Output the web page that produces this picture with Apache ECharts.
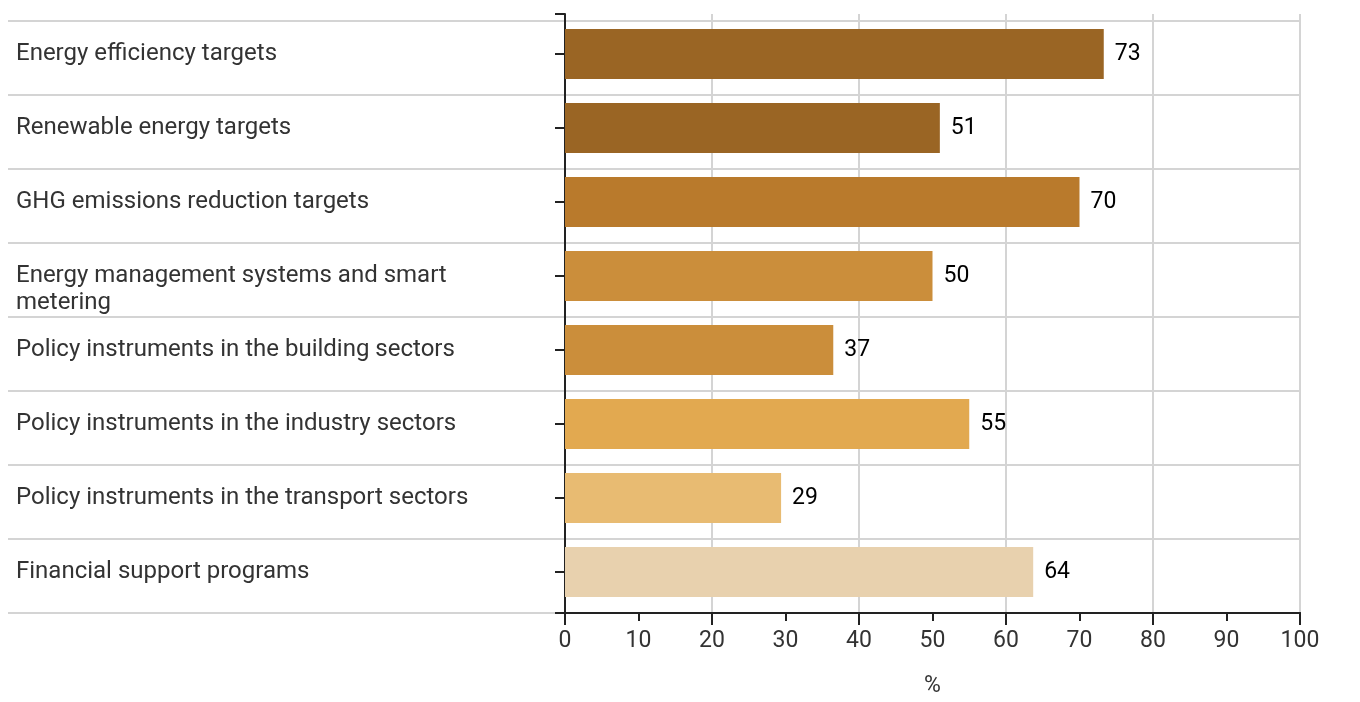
<!DOCTYPE html>
<html>
<head>
<meta charset="utf-8">
<script src="https://cdn.jsdelivr.net/npm/echarts@6/dist/echarts.min.js"></script>
<style>html,body{margin:0;padding:0;background:#fff}#c{width:1360px;height:702px}</style>
</head>
<body>
<div id="c"></div>
<script>
const categories = [
  "Energy efficiency targets",
  "Renewable energy targets",
  "GHG emissions reduction targets",
  "Energy management systems and smart metering",
  "Policy instruments in the building sectors",
  "Policy instruments in the industry sectors",
  "Policy instruments in the transport sectors",
  "Financial support programs"
];
const values = [73.3, 51, 70, 50, 36.5, 55, 29.4, 63.7];
const barColors = ["#9a6524", "#9a6524", "#b97a2c", "#cb8e3b", "#cb8e3b", "#e2a950", "#e8bb72", "#e8d1ae"];
const xTicks = [0, 10, 20, 30, 40, 50, 60, 70, 80, 90, 100];

const FONT = "Roboto";
const LABEL_WIDTH = 465;
const measureCtx = document.createElement('canvas').getContext('2d');
measureCtx.font = '24px ' + FONT;
const wraps = v => measureCtx.measureText(v).width > LABEL_WIDTH;

const chart = echarts.init(document.getElementById('c'));
chart.setOption({
  animation: false,
  textStyle: { fontFamily: FONT },
  grid: [
    { left: 565, right: 60, top: 17, bottom: 93, outerBoundsMode: 'none', containLabel: false },   // bars
    { left: 8, right: 60, top: 21, bottom: 89, outerBoundsMode: 'none', containLabel: false },     // row separators
    { left: 565, right: 60, top: 14, bottom: 89, outerBoundsMode: 'none', containLabel: false }    // axes + vertical grid
  ],
  xAxis: [
    { gridIndex: 0, type: 'value', min: 0, max: 100, show: false },
    { gridIndex: 1, type: 'value', min: 0, max: 1, show: false },
    { gridIndex: 2, type: 'value', min: 0, max: 100, interval: 20, position: 'bottom',
      axisLine: { show: true, lineStyle: { color: '#222', width: 2 } },
      axisTick: { show: true, length: 12, lineStyle: { color: '#222', width: 2 } },
      axisLabel: { show: false },
      splitLine: { show: true, lineStyle: { color: '#d4d4d4', width: 2 } } },
    { gridIndex: 2, type: 'value', min: xTicks[0], max: xTicks[xTicks.length - 1], interval: 10, position: 'bottom',
      axisLine: { show: true, lineStyle: { color: '#222', width: 2 } },
      axisTick: { show: true, length: 8, lineStyle: { color: '#222', width: 2 } },
      axisLabel: { show: true, margin: 17, fontSize: 23, color: '#333', fontFamily: FONT },
      splitLine: { show: false },
      name: '%', nameLocation: 'middle', nameGap: 62,
      nameTextStyle: { fontSize: 23, color: '#333', fontFamily: FONT } }
  ],
  yAxis: [
    { gridIndex: 0, type: 'category', data: categories, inverse: true,
      axisLine: { show: false },
      axisTick: { show: true, alignWithLabel: true, length: 10, lineStyle: { color: '#222', width: 2 } },
      axisLabel: { align: 'left', margin: 549, fontSize: 24, lineHeight: 27, color: '#333',
        width: LABEL_WIDTH, overflow: 'break', fontFamily: FONT,
        formatter: v => (wraps(v) ? '\n' + v : v) },
      splitLine: { show: false } },
    { gridIndex: 1, type: 'category', data: categories, inverse: true,
      axisLine: { show: false }, axisTick: { show: false }, axisLabel: { show: false },
      splitLine: { show: true, lineStyle: { color: '#d4d4d4', width: 2 } } },
    { gridIndex: 2, type: 'value', min: 0, max: 1, interval: 1,
      axisLine: { show: true, lineStyle: { color: '#222', width: 2 } },
      axisTick: { show: true, length: 10, lineStyle: { color: '#222', width: 2 } },
      axisLabel: { show: false }, splitLine: { show: false } }
  ],
  series: [{
    type: 'bar',
    xAxisIndex: 0, yAxisIndex: 0,
    barWidth: 50,
    data: values.map((v, i) => ({ value: v, itemStyle: { color: barColors[i] } })),
    label: { show: true, position: 'right', distance: 11, fontSize: 23, color: '#000',
      fontFamily: FONT, formatter: p => Math.round(p.value) },
    z: 3
  }]
});
</script>
</body>
</html>
